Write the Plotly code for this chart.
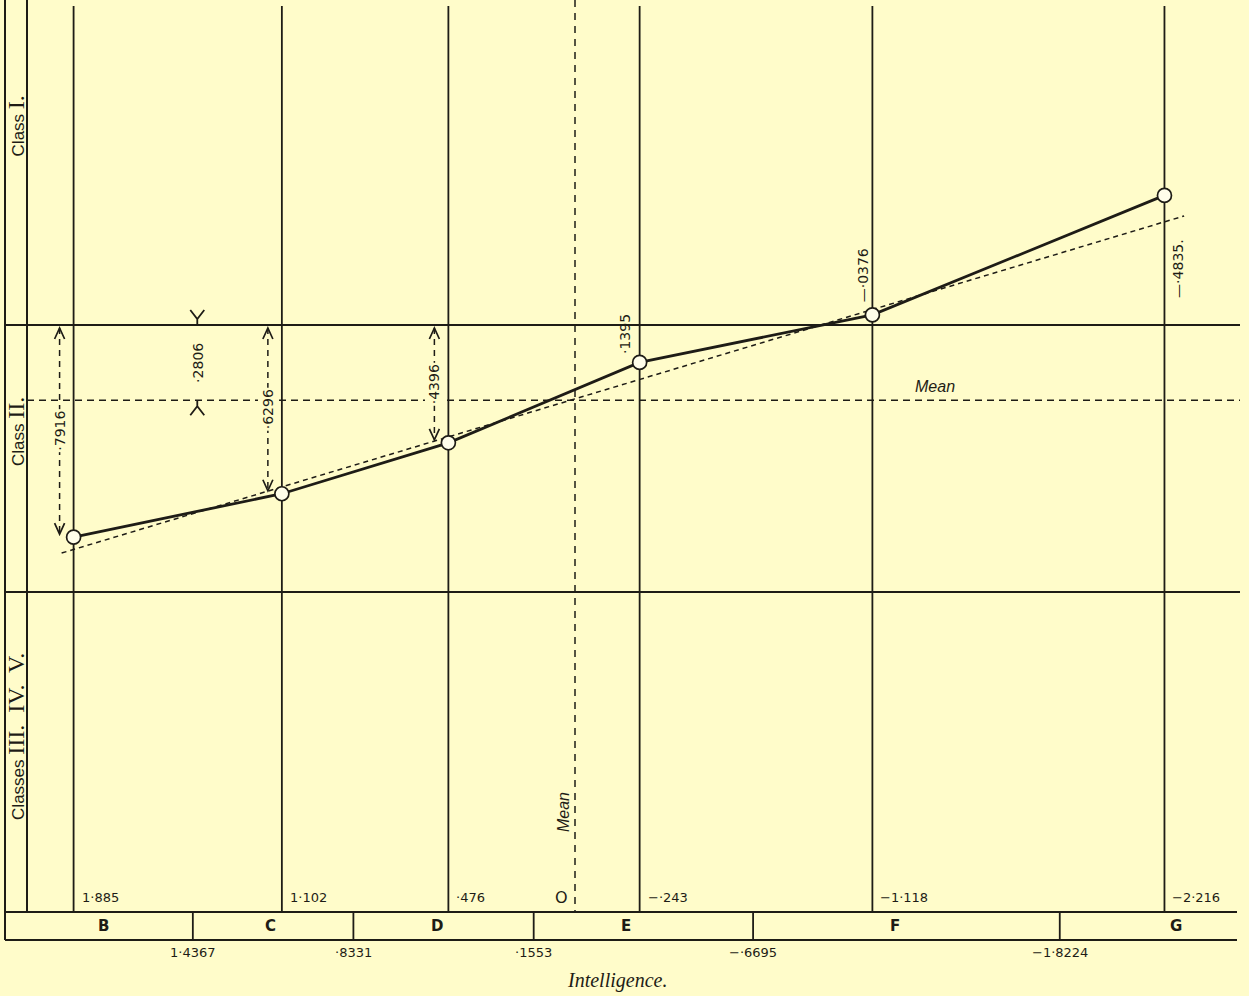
import plotly.graph_objects as go

# ---------------------------------------------------------------------------
# Data
# ---------------------------------------------------------------------------
# Intelligence groups and the position of each group on the intelligence scale
groups = ["B", "C", "D", "E", "F", "G"]
group_x = [1.885, 1.102, 0.476, -0.243, -1.118, -2.216]
group_x_labels = ["1·885", "1·102", "·476", "−·243", "−1·118", "−2·216"]

# Distance of each group's mean below the Class I / Class II division
group_depth = [0.7916, 0.6296, 0.4396, 0.1395, -0.0376, -0.4835]
depth_labels = ["·7916", "·6296", "·4396", "·1395", "—·0376", "—·4835."]

# Boundaries between the groups on the intelligence scale
bounds = [1.4367, 0.8331, 0.1553, -0.6695, -1.8224]
bound_labels = ["1·4367", "·8331", "·1553", "−·6695", "−1·8224"]

# Where the group letters sit inside the bottom band
letter_x = [1.771, 1.143, 0.519, -0.192, -1.203, -2.259]

# Mean of the class distribution below the Class I / II division
mean_depth = 0.2806
mean_label = "·2806"
mean_mark_x = 1.42

# Class divisions (Class I | Class II, Class II | Classes III-V)
class_divs = [0.0, 0.996]
class_names = ["Class", "Class", "Classes"]
class_numerals = ["I.", "II.", "III.  IV.  V."]
class_label_depth = [-0.741, 0.399, 1.537]

# Fitted straight line through the group means
reg_x = [1.93, -2.29]
reg_y = [0.851, -0.407]

# ---------------------------------------------------------------------------
# Styling / geometry
# ---------------------------------------------------------------------------
W, H = 1249, 996
KX, KY = 266.0, 268.0          # pixels per unit on each axis
X0_PX, Y0_PX = 575.0, 325.0    # pixel of x = 0 and depth = 0

BG = "#FFFCCA"
INK = "#1E1C16"
SANS = "DejaVu Sans, Liberation Sans, sans-serif"
NARROW = "Liberation Sans, Arial, sans-serif"
SERIF = "Liberation Serif, serif"


def xpx(px):
    """x value at a horizontal pixel position."""
    return (X0_PX - px) / KX


def ypx(py):
    """depth value at a vertical pixel position."""
    return (py - Y0_PX) / KY


def off(x, y, dx_px, dy_px):
    """Shift a data point by a pixel offset."""
    return x - dx_px / KX, y + dy_px / KY


X_RANGE = [xpx(0), xpx(W)]
Y_RANGE = [ypx(H), ypx(0)]

FRAME_X = xpx(5)
INNER_X = xpx(27)
RIGHT_X = xpx(1240)
TOP_Y = ypx(6)
BAND_TOP = ypx(912)
BAND_BOT = ypx(940)

shapes = []


def seg(x0, y0, x1, y1, width=1.8, dash=None, color=INK):
    ln = dict(color=color, width=width)
    if dash:
        ln["dash"] = dash
    shapes.append(dict(type="line", xref="x", yref="y", x0=x0, y0=y0,
                       x1=x1, y1=y1, line=ln, layer="below"))


def path(points_groups, width=1.7):
    d = ""
    for pts in points_groups:
        d += "M " + " L ".join(f"{px:.5f},{py:.5f}" for px, py in pts) + " "
    shapes.append(dict(type="path", xref="x", yref="y", path=d.strip(),
                       line=dict(color=INK, width=width), layer="above"))


# frame and class-label column
seg(FRAME_X, Y_RANGE[1], FRAME_X, BAND_BOT, width=2)
seg(INNER_X, Y_RANGE[1], INNER_X, BAND_TOP, width=2)

# group verticals
for gx in group_x:
    seg(gx, TOP_Y, gx, BAND_TOP, width=1.8)

# class divisions and the mean
for cd in class_divs:
    seg(FRAME_X, cd, RIGHT_X, cd, width=2)
seg(INNER_X, mean_depth, RIGHT_X, mean_depth, width=1.5, dash="7px,5px")
seg(0, Y_RANGE[1], 0, BAND_TOP, width=1.5, dash="7px,6px")

# bottom band with group cells
seg(FRAME_X, BAND_TOP, xpx(1237), BAND_TOP, width=2)
seg(FRAME_X, BAND_BOT, xpx(1237), BAND_BOT, width=2)
for b in bounds:
    seg(b, BAND_TOP, b, BAND_BOT, width=1.8)

annotations = []


def text(x, y, s, size=14, family=SANS, angle=0, xanchor="center",
         yanchor="middle", xshift=0, yshift=0, bg=None):
    a = dict(x=x, y=y, xref="x", yref="y", text=s, showarrow=False,
             font=dict(family=family, size=size, color=INK),
             textangle=angle, xanchor=xanchor, yanchor=yanchor,
             xshift=xshift, yshift=yshift)
    if bg:
        a["bgcolor"] = bg
        a["borderpad"] = 1
    annotations.append(a)


# dashed double arrows for the first three groups
for gx, gd, lab in zip(group_x[:3], group_depth[:3], depth_labels[:3]):
    ax = gx + 14 / KX
    top = 3 / KY
    bot = gd - 3 / KY
    seg(ax, top, ax, bot, width=1.5, dash="6px,5px")
    path([[off(ax, top, -5, 11), (ax, top), off(ax, top, 5, 11)],
          [off(ax, bot, -5, -11), (ax, bot), off(ax, bot, 5, -11)]])
    text(ax, gd / 2, lab, angle=-90, bg=BG)

# the mean's distance below the division, marked from outside
mx = mean_mark_x
path([[off(mx, 0, -7, -15), off(mx, 0, 0, -6), off(mx, 0, 7, -15)],
      [off(mx, 0, 0, -6), (mx, 0)]], width=1.8)
path([[(mx, mean_depth), off(mx, mean_depth, 0, 6)],
      [off(mx, mean_depth, -7, 15), off(mx, mean_depth, 0, 6),
       off(mx, mean_depth, 7, 15)]], width=1.8)
text(mx, mean_depth / 2, mean_label, angle=-90)

# labels beside the last three group means
for gx, gd, lab, dx, dy in zip(group_x[3:], group_depth[3:], depth_labels[3:],
                               [-14, -9, 14], [28, 40, -73]):
    text(gx, gd, lab, angle=-90, xshift=dx, yshift=dy)

# group positions along the foot of the verticals
for gx, lab in zip(group_x, group_x_labels):
    text(gx, ypx(897), lab, size=13, xanchor="left", xshift=6)
text(0, ypx(897), "O", size=16, xanchor="right", xshift=-5)

# letters in the band and the boundary values beneath it
for lx, g in zip(letter_x, groups):
    text(lx, ypx(926), f"<b>{g}</b>", size=15)
for b, lab in zip(bounds, bound_labels):
    text(b, ypx(952), lab, size=13)

text(xpx(617), ypx(980), "<i>Intelligence.</i>", size=20, family=SERIF)

# mean labels
text(xpx(935), mean_depth, "<i>Mean</i>", size=16, family=NARROW,
     yanchor="bottom", yshift=3)
text(0, ypx(812), "<i>Mean</i>", size=16, family=NARROW, angle=-90,
     xshift=-12)

# class labels in the left column
for name, num, yd in zip(class_names, class_numerals, class_label_depth):
    s = (f"<span style=\"font-family:{NARROW}\">{name}</span> "
         f"<span style=\"font-family:{SERIF};font-size:24px\">{num}</span>")
    text((FRAME_X + INNER_X) / 2, yd, s, size=17, family=NARROW, angle=-90)

fig = go.Figure()

# fitted line
fig.add_trace(go.Scatter(
    x=reg_x, y=reg_y, mode="lines",
    line=dict(color=INK, width=1.5, dash="5px,4px"),
    hoverinfo="skip", showlegend=False))

# observed group means
fig.add_trace(go.Scatter(
    x=group_x, y=group_depth, mode="lines+markers",
    line=dict(color=INK, width=2.8),
    marker=dict(size=14, color="#FFFEEA", line=dict(color=INK, width=1.7)),
    text=groups, hoverinfo="text", showlegend=False))

fig.update_layout(
    width=W, height=H,
    margin=dict(l=0, r=0, t=0, b=0),
    paper_bgcolor=BG, plot_bgcolor=BG,
    xaxis=dict(range=X_RANGE, visible=False, fixedrange=True),
    yaxis=dict(range=Y_RANGE, visible=False, fixedrange=True),
    shapes=shapes, annotations=annotations,
    showlegend=False,
)

fig.write_html("out.html")
